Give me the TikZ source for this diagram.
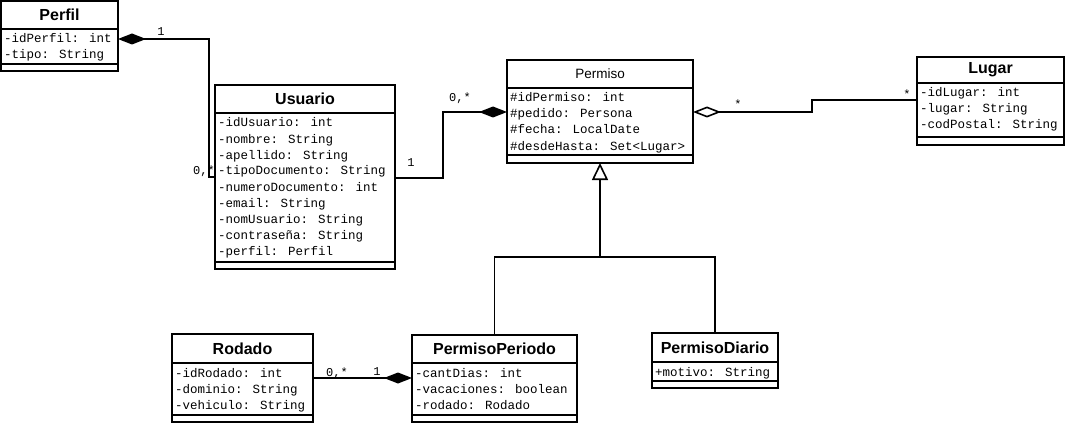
\documentclass[tikz,border=0pt]{standalone}
\usepackage{fontspec}
\setmainfont{Liberation Sans}
\newfontfamily\monof{Liberation Mono}
\usetikzlibrary{fit,arrows.meta}
\tikzset{
  ln/.style={line width=1.6pt, line join=miter},
  classbox/.style={draw, line width=1.6pt, inner sep=0pt, outer sep=0pt, rectangle},
  titlebf/.style={font=\bfseries\fontsize{16}{16}\selectfont, inner sep=0pt},
  titlerg/.style={font=\fontsize{13.5}{14}\selectfont, inner sep=0pt},
  attrtext/.style={font=\monof\fontsize{12.5}{16}\selectfont, inner sep=0pt, anchor=base west},
  multlab/.style={font=\monof\fontsize{12}{12}\selectfont, inner sep=0pt},
  compo/.style={ln, -{Diamond[length=28pt,width=11pt]}},
  aggr/.style={ln, -{Diamond[open,fill=white,length=28pt,width=11pt]}},
  inher/.style={ln, -{Triangle[open,fill=white,length=17pt,width=16pt]}}
}
% #1 name, #2 x1, #3 y1, #4 x2, #5 y2, #6 ydiv, #7 yattr, #8 title node, #9 attributes
\newcommand\umlcls[9]{%
  \node[classbox, fit={(#2,#3) (#4,#5)}] (#1) {};
  \draw[ln] (#2,#6) -- (#4,#6);
  \draw[ln] (#2,#7) -- (#4,#7);
  #8
  \foreach \attrtxt [count=\i] in {#9}
    \node[attrtext] (#1-a\i) at ({#2+3},{#6+16*\i-2}) {\attrtxt};
}
\begin{document}
\begin{tikzpicture}[x=1pt,y=-1pt]
\useasboundingbox (0,0) rectangle (1068,425);

\umlcls{perfil}{1}{1}{118}{71}{29}{64}
  {\node[titlebf] (perfil-t) at (59.5,15) {Perfil};}
  {-idPerfil: int,-tipo: String}

\umlcls{usuario}{215}{85}{395}{269}{113}{262}
  {\node[titlebf] (usuario-t) at (305,99) {Usuario};}
  {-idUsuario: int,-nombre: String,-apellido: String,-tipoDocumento: String,-numeroDocumento: int,-email: String,-nomUsuario: String,-contraseña: String,-perfil: Perfil}

\umlcls{permiso}{507}{60}{693}{163}{88}{155}
  {\node[titlerg] (permiso-t) at (600,74) {Permiso};}
  {\#idPermiso: int,\#pedido: Persona,\#fecha: LocalDate,\#desdeHasta: Set<Lugar>}

\umlcls{lugar}{917}{57}{1064}{145}{83}{137}
  {\node[titlebf] (lugar-t) at (990.5,70) {Lugar};}
  {-idLugar: int,-lugar: String,-codPostal: String}

\umlcls{rodado}{172}{334}{313}{422}{363}{415}
  {\node[titlebf] (rodado-t) at (242.5,348.5) {Rodado};}
  {-idRodado: int,-dominio: String,-vehiculo: String}

\umlcls{permisoperiodo}{412}{335}{577}{422}{363}{415}
  {\node[titlebf] (permisoperiodo-t) at (494.5,349) {PermisoPeriodo};}
  {-cantDias: int,-vacaciones: boolean,-rodado: Rodado}

\umlcls{permisodiario}{652}{333}{778}{388}{362}{381}
  {\node[titlebf] (permisodiario-t) at (715,347.5) {PermisoDiario};}
  {+motivo: String}

% Usuario -> Perfil (composition)
\draw[compo] ([yshift=-92pt]usuario.north west) -- (209,177) -- (209,39) -- ([yshift=-38pt]perfil.north east);
\node[multlab] (l1) at (161,32) {1};
\node[multlab] (l2) at (204,171) {0,*};

% Usuario -> Permiso (composition)
\draw[compo] ([yshift=-93pt]usuario.north east) -- (443,178) -- (443,112) -- ([yshift=-52pt]permiso.north west);
\node[multlab] (l3) at (411,163) {1};
\node[multlab] (l4) at (460,98) {0,*};

% Lugar -> Permiso (aggregation)
\draw[aggr] ([yshift=-43pt]lugar.north west) -- (812,100) -- (812,112) -- ([yshift=-52pt]permiso.north east);
\node[multlab] (l5) at (738,104) {*};
\node[multlab] (l6) at (907,94) {*};

% Inheritance
\draw[inher] (permisoperiodo.north) -- ++(0,-78) -| (permiso.south);
\draw[ln] (permisodiario.north) -- ++(0,-76) -- ++(-115.5,0);

% Rodado -> PermisoPeriodo (composition)
\draw[compo] ([yshift=-44pt]rodado.north east) -- ([yshift=-43pt]permisoperiodo.north west);
\node[multlab] (l7) at (337,373) {0,*};
\node[multlab] (l8) at (377,372) {1};
\end{tikzpicture}
\end{document}
